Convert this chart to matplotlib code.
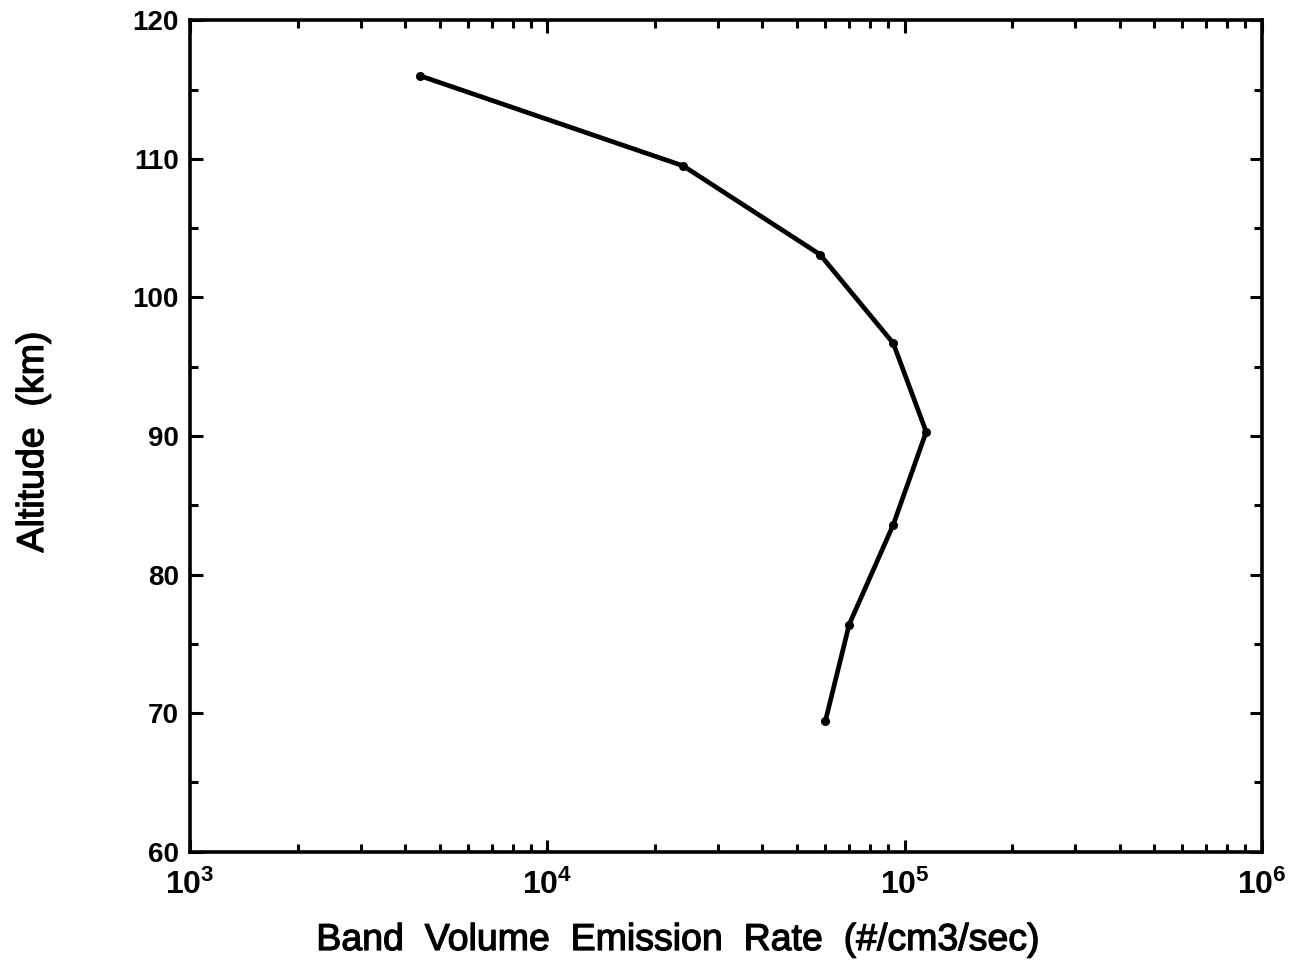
import math
import matplotlib
matplotlib.use("Agg")
import matplotlib.pyplot as plt
import matplotlib.patheffects as pe
from matplotlib.ticker import LogLocator, FixedLocator, MultipleLocator, FuncFormatter

plt.rcParams["font.family"] = ["Liberation Sans", "DejaVu Sans"]
plt.rcParams["mathtext.fontset"] = "custom"
plt.rcParams["mathtext.rm"] = "Liberation Sans"
plt.rcParams["mathtext.bf"] = "Liberation Sans:bold"

# Band volume emission rate profile
emission_rate = [4.4e3, 2.4e4, 5.8e4, 9.3e4, 1.15e5, 9.3e4, 7.0e4, 6.0e4]
altitude_km = [116.0, 109.5, 103.1, 96.7, 90.3, 83.6, 76.4, 69.4]

x_limits = (1e3, 1e6)
y_limits = (60, 120)
y_ticks = [60, 70, 80, 90, 100, 110, 120]

fig = plt.figure(figsize=(12.94, 9.69), dpi=100)
ax = fig.add_axes([0.147, 0.121, 0.828, 0.858])

ax.plot(emission_rate, altitude_km, color="black", lw=3.4,
        marker="o", markersize=5.5, markerfacecolor="black", markeredgecolor="black")

ax.set_xscale("log")
ax.set_xlim(*x_limits)
ax.set_ylim(*y_limits)

ax.xaxis.set_major_locator(LogLocator(base=10, numticks=10))
ax.xaxis.set_minor_locator(LogLocator(base=10, subs=range(2, 10), numticks=20))
ax.xaxis.set_major_formatter(FuncFormatter(
    lambda v, pos: r"$\mathbf{10^{%d}}$" % round(math.log10(v))))
ax.yaxis.set_major_locator(FixedLocator(y_ticks))
ax.yaxis.set_minor_locator(MultipleLocator(5))

for side in ax.spines.values():
    side.set_linewidth(2.6)

ax.tick_params(which="both", direction="in", top=True, right=True, width=2.2)
ax.tick_params(which="major", length=9)
ax.tick_params(which="minor", length=6)
ax.tick_params(axis="y", which="major", labelsize=20, pad=8)
ax.tick_params(axis="x", which="major", labelsize=23, pad=13)
for lbl in ax.get_yticklabels():
    lbl.set_fontweight("bold")

thick = [pe.withStroke(linewidth=0.9, foreground="black")]
fig.text(678 / 1294, 1 - 940 / 969, "Band  Volume  Emission  Rate  (#/cm3/sec)",
         fontsize=27, ha="center", va="center", path_effects=thick)
fig.text(33 / 1294, 1 - 442 / 969, "Altitude  (km)", rotation=90,
         fontsize=27, ha="center", va="center", path_effects=thick)

fig.savefig("out.png", dpi=100, facecolor="white")
